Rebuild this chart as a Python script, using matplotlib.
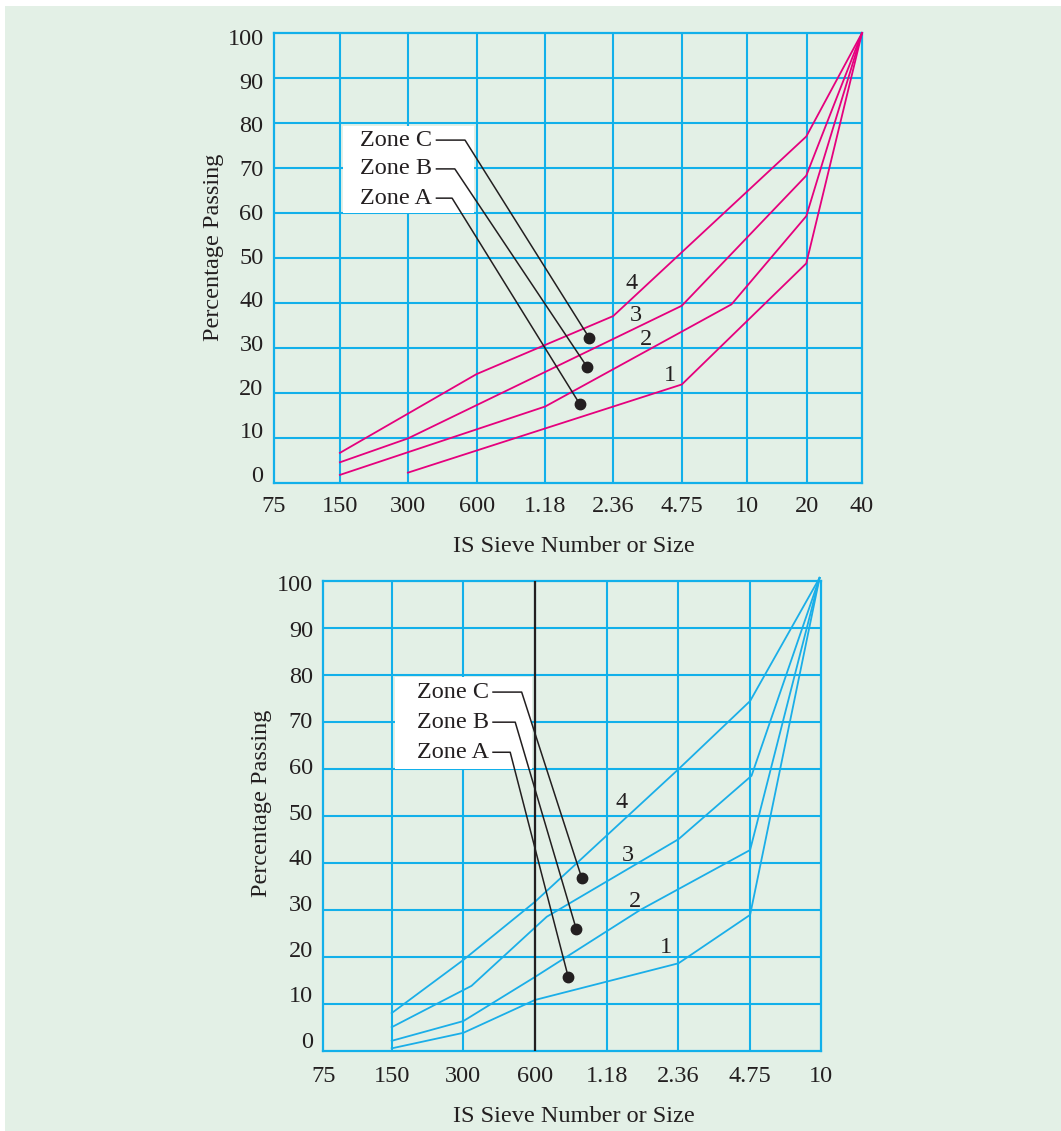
import numpy as np
import matplotlib.pyplot as plt
from matplotlib.patches import Rectangle

plt.rcParams['font.family'] = 'serif'
plt.rcParams['font.serif'] = ['Liberation Serif', 'DejaVu Serif']

# sieve labels and where each sits along the x axis
top_sieves = ['75', '150', '300', '600', '1.18', '2.36', '4.75', '10', '20', '40']
top_sieve_pos = [0, 0.97, 1.97, 2.99, 3.99, 4.99, 6.0, 6.96, 7.84, 8.65]
bot_sieves = ['75', '150', '300', '600', '1.18', '2.36', '4.75', '10']
bot_sieve_pos = [0, 0.955, 1.955, 2.957, 3.96, 4.96, 5.96, 6.95]
pct_ticks = [0, 10, 20, 30, 40, 50, 60, 70, 80, 90, 100]

# grading curves, upper chart (x in axis position units, y in % passing)
top_curve_4_x = [0.97, 2.98, 4.99, 7.83, 8.65]
top_curve_4_y = [6.7, 24.2, 37.1, 77.0, 100]
top_curve_3_x = [0.97, 1.97, 6.0, 7.83, 8.65]
top_curve_3_y = [4.6, 9.9, 39.4, 68.3, 100]
top_curve_2_x = [0.97, 3.99, 6.73, 7.83, 8.65]
top_curve_2_y = [1.8, 17.0, 39.7, 59.3, 100]
top_curve_1_x = [1.97, 6.0, 7.83, 8.65]
top_curve_1_y = [2.3, 21.9, 48.8, 100]

# grading curves, lower chart
bot_curve_4_x = [0.955, 1.955, 2.957, 4.96, 5.96, 6.93]
bot_curve_4_y = [8.0, 19.3, 31.7, 59.9, 74.4, 100.6]
bot_curve_3_x = [0.955, 2.07, 3.12, 4.96, 5.98, 6.93]
bot_curve_3_y = [5.0, 13.8, 28.5, 45.0, 58.5, 100.6]
bot_curve_2_x = [0.955, 1.955, 2.957, 4.42, 5.96, 6.93]
bot_curve_2_y = [2.1, 6.3, 15.7, 29.9, 42.7, 100.6]
bot_curve_1_x = [0.955, 1.955, 2.957, 4.96, 5.96, 6.93]
bot_curve_1_y = [0.5, 3.8, 10.8, 18.6, 28.9, 100.6]

zones = ['Zone C', 'Zone B', 'Zone A']
curve_names = ['4', '3', '2', '1']

BG = '#e3f0e6'
GRID = '#12b0ea'
MAGENTA = '#e5007d'
BLUE = '#1aaee8'
INK = '#231f20'
FS = 17.5


def draw_panel(ax, sieves, sieve_pos, curves, color, cfg, label_xy):
    ax.set_facecolor(BG)
    ax.set_xlim(sieve_pos[0], sieve_pos[-1])
    ax.set_ylim(0, 100)
    for x in sieve_pos[1:-1]:
        ax.axvline(x, color=GRID, lw=1.5, zorder=1)
    for y in pct_ticks[1:-1]:
        ax.axhline(y, color=GRID, lw=1.5, zorder=1)
    for s in ax.spines.values():
        s.set_color(GRID)
        s.set_linewidth(1.6)
        s.set_zorder(1)
    ax.set_xticks(sieve_pos)
    ax.set_xticklabels(sieves)
    # y labels run on a slightly tighter pitch than the grid
    top, pitch = cfg['ylab']
    ax.set_yticks([top - (100 - v) * pitch for v in pct_ticks])
    ax.set_yticklabels([str(v) for v in pct_ticks])
    ax.tick_params(length=0, labelsize=FS, colors=INK)
    ax.tick_params(axis='x', pad=cfg['xpad'])
    ax.tick_params(axis='y', pad=7.5)

    for (cx, cy) in curves:
        ax.plot(cx, cy, color=color, lw=1.3, zorder=3, clip_on=False)
    for name, (lx, ly) in zip(curve_names, label_xy):
        ax.text(lx, ly, name, fontsize=FS, ha='center', va='center', color=INK, zorder=5)

    # white panel behind the zone names
    bx0, bx1, by0, by1 = cfg['box']
    ax.add_patch(Rectangle((bx0, by0), bx1 - bx0, by1 - by0, facecolor='white',
                           edgecolor='none', zorder=2))
    for z, ty, hx, (dx, dy) in zip(zones, cfg['text_y'], cfg['hook_x'], cfg['dots']):
        ax.text(cfg['text_x'], ty, z, fontsize=FS, ha='right', va='center',
                color=INK, zorder=5)
        ax.plot([cfg['line_x'], hx, dx], [ty, ty, dy], color=INK, lw=1.1, zorder=4)
        ax.plot(dx, dy, 'o', color=INK, ms=7.5, zorder=4)


fig = plt.figure(figsize=(10.61, 11.31), dpi=100)
fig.patch.set_facecolor(BG)
fig.patches.append(Rectangle((0, 1 - 6 / 1131), 1, 6 / 1131, transform=fig.transFigure,
                             facecolor='white', edgecolor='none'))
fig.patches.append(Rectangle((0, 0), 5 / 1061, 1, transform=fig.transFigure,
                             facecolor='white', edgecolor='none'))

ax1 = fig.add_axes([274 / 1061, 1 - 483 / 1131, 588 / 1061, 450 / 1131])
draw_panel(ax1, top_sieves, top_sieve_pos,
           [(top_curve_4_x, top_curve_4_y), (top_curve_3_x, top_curve_3_y),
            (top_curve_2_x, top_curve_2_y), (top_curve_1_x, top_curve_1_y)],
           MAGENTA,
           {'xpad': 9, 'ylab': (99.1, 0.971),
            'box': (1.01, 2.94, 59.9, 79.3),
            'text_x': 2.33, 'text_y': [76.2, 69.8, 63.3],
            'line_x': 2.39, 'hook_x': [2.81, 2.66, 2.62],
            'dots': [(4.64, 32.2), (4.61, 25.7), (4.5, 17.5)]},
           [(5.26, 44.4), (5.32, 37.3), (5.47, 32.0), (5.82, 24.0)])

ax2 = fig.add_axes([323.3 / 1061, 1 - 1050.7 / 1131, 497.7 / 1061, 470 / 1131])
draw_panel(ax2, bot_sieves, bot_sieve_pos,
           [(bot_curve_4_x, bot_curve_4_y), (bot_curve_3_x, bot_curve_3_y),
            (bot_curve_2_x, bot_curve_2_y), (bot_curve_1_x, bot_curve_1_y)],
           BLUE,
           {'xpad': 11, 'ylab': (99.45, 0.972),
            'box': (1.0, 2.91, 59.9, 79.6),
            'text_x': 2.31, 'text_y': [76.3, 69.9, 63.5],
            'line_x': 2.37, 'hook_x': [2.77, 2.68, 2.61],
            'dots': [(3.61, 36.7), (3.53, 26.0), (3.42, 15.7)]},
           [(4.16, 52.9), (4.26, 41.6), (4.35, 31.7), (4.79, 22.0)])
# 600 micron sieve marked in black
ax2.axvline(bot_sieve_pos[3], color=INK, lw=1.6, zorder=3)

fig.text(213 / 1061, 1 - 247 / 1131, 'Percentage Passing', rotation=90, fontsize=FS,
         ha='center', va='center', color=INK)
fig.text(574 / 1061, 1 - 546 / 1131, 'IS Sieve Number or Size', fontsize=FS,
         ha='center', va='center', color=INK)
fig.text(261 / 1061, 1 - 803 / 1131, 'Percentage Passing', rotation=90, fontsize=FS,
         ha='center', va='center', color=INK)
fig.text(574 / 1061, 1 - 1116 / 1131, 'IS Sieve Number or Size', fontsize=FS,
         ha='center', va='center', color=INK)

plt.savefig('out.png', dpi=100, facecolor=fig.get_facecolor())
